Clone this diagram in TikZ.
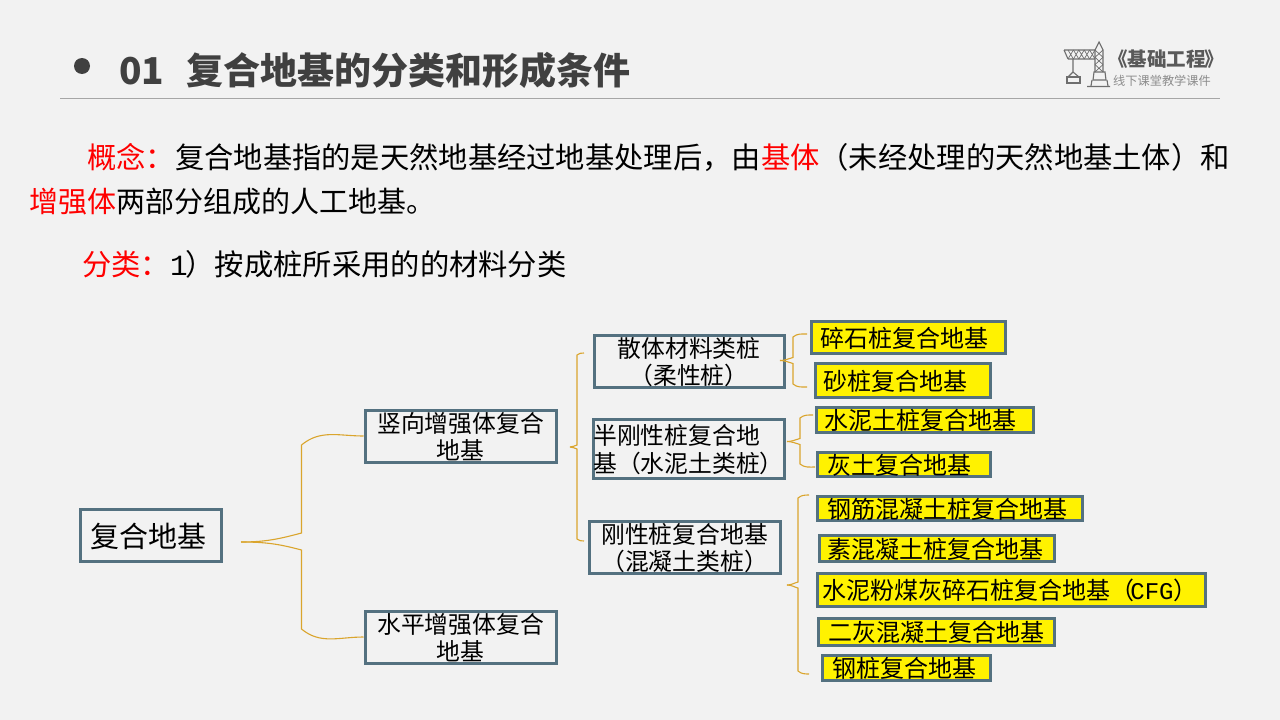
\documentclass[tikz,border=0pt]{standalone}
\usepackage{fontspec}
\setmainfont{Noto Sans CJK SC}
\newfontfamily\monolatin{Liberation Mono}
\usetikzlibrary{calc}

\definecolor{boxedge}{RGB}{84,113,128}
\definecolor{bracegold}{RGB}{218,165,45}
\definecolor{pagebg}{RGB}{242,242,242}
\definecolor{titlegray}{RGB}{64,64,64}
\definecolor{logogray}{RGB}{110,110,110}

\tikzset{
  para/.style={anchor=west,inner sep=0pt,font=\fontsize{29}{34}\selectfont,text=black},
  plainbox/.style={draw=boxedge,line width=3pt,inner sep=0pt,align=center,text depth=0pt,font=\fontsize{23.8}{27.5}\selectfont},
  yellowbox/.style={draw=boxedge,fill=yellow,line width=3pt,inner sep=0pt,text depth=0pt,font=\fontsize{24}{27}\selectfont},
  bracket/.style={draw=bracegold,line width=1.1pt},
  crane/.style={draw=logogray,line width=1.1pt}
}

\newcommand{\bracearm}[5]{
  \draw [bracket] (#1) to [out=0,in={#4*165}] ($ (#1 -| #3)+(0,#4*#5) $)
    -- ($ (#2 -| #3)-(0,#4*#5) $) to [out={#4*(-40)},in=180] (#2);
}

\begin{document}
\begin{tikzpicture}[x=1pt,y=-1pt]
  \useasboundingbox [fill=pagebg] (0,0) rectangle (1280,720);

  % title
  \node [circle,fill=titlegray,inner sep=0pt,minimum size=16pt] (bullet) at (82,66) {};
  \node [anchor=west,inner sep=0pt,text=titlegray,font=\fontsize{37}{42}\selectfont\bfseries] (title) at (119,70)
    {01\hspace{22pt}复合地基的分类和形成条件};
  \coordinate (rulel) at (60,98.5);
  \coordinate (ruler) at (1220,98.5);
  \draw [color=black!35,line width=1pt] (rulel) -- (ruler);

  % logo
  \draw [crane] (1064,50) -- (1095,50) (1068,59) -- (1095,59) (1064,50) -- (1068,59);
  \draw [crane] (1095,72) -- (1095,50) -- (1099,42) -- (1103,50) -- (1103,72);
  \foreach \i in {0,1,2,3,4}
    \draw [crane,line width=0.7pt] ({1068+5.4*\i},50) -- ({1073.4+5.4*\i},59) ({1073.4+5.4*\i},50) -- ({1068+5.4*\i},59);
  \foreach \j in {0,1,2}
    \draw [crane,line width=0.7pt] (1095,{50+7.3*\j}) -- (1103,{57.3+7.3*\j}) (1103,{50+7.3*\j}) -- (1095,{57.3+7.3*\j});
  \draw [crane] (1073,59) -- (1073,72) -- (1068,77) (1073,72) -- (1079,77);
  \draw [crane] (1067,77) rectangle (1080,83);
  \draw [crane] (1094,72) -- (1105,72) -- (1106,80) -- (1093,80) -- cycle;
  \draw [crane] (1091,86) -- (1092,80) (1108,86) -- (1107,80) (1087,86.5) -- (1110,86.5);
  \node [anchor=west,inner sep=0pt,text=black!65,font=\fontsize{19.5}{22}\selectfont\bfseries] (logotitle) at (1112,59)
    {\hspace{-4pt}《基础工程\hspace{-1pt}》};
  \node [anchor=west,inner sep=0pt,text=black!45,font=\fontsize{12.2}{14}\selectfont] (logosub) at (1113,81) {线下课堂教学课件};

  % text
  \node [para,font=\fontsize{29.3}{34}\selectfont] (line1) at (87,158)
    {\textcolor{red}{概念：}复合地基指的是天然地基经过地基处理后，由\textcolor{red}{基体}（未经处理的天然地基土体）和};
  \node [para] (line2) at (29,202) {\textcolor{red}{增强体}两部分组成的人工地基。};
  \node [para,font=\fontsize{29.3}{34}\selectfont] (line3) at (82,264)
    {\textcolor{red}{分类：}{\monolatin 1}\hspace{-2pt}）按成桩所采用的的材料分类};

  % boxes
  \node [plainbox,minimum width=141pt,minimum height=52pt,font=\fontsize{29}{32}\selectfont] (root) at (151,535) {复合地基\hspace{6pt}};
  \node [plainbox,minimum width=191pt,minimum height=52pt] (vert) at (460.5,436) {竖向增强体复合\\地基};
  \node [plainbox,minimum width=191pt,minimum height=52pt] (horiz) at (460.5,637) {水平增强体复合\\地基};

  \node [plainbox,minimum width=190pt,minimum height=52pt] (loose) at (689,361) {散体材料类桩\\（柔性桩）};
  \node [plainbox,minimum width=191pt,minimum height=59pt,align=left,text depth=-3pt] (semi) at (688.5,448.5) {半刚性桩复合地\hspace{23pt}\\基（水泥土类桩）};
  \node [plainbox,minimum width=191pt,minimum height=52pt,text depth=-3pt] (rigid) at (684.5,547) {刚性桩复合地基\\（混凝土类桩）};

  \node [yellowbox,minimum width=194pt,minimum height=32pt] (gravel) at (908,337) {碎石桩复合地基\kern8pt};
  \node [yellowbox,minimum width=175pt,minimum height=34pt] (sand) at (902.5,380) {砂桩复合地基\kern14pt};
  \node [yellowbox,minimum width=217pt,minimum height=25pt] (soilcem) at (924.5,419.5) {水泥土桩复合地基\kern8pt};
  \node [yellowbox,minimum width=173pt,minimum height=24pt] (lime) at (903.5,464) {灰土复合地基\kern8pt};
  \node [yellowbox,minimum width=265pt,minimum height=24pt] (rcpile) at (949.5,508) {钢筋混凝土桩复合地基\kern4pt};
  \node [yellowbox,minimum width=235pt,minimum height=26pt] (plain) at (936.5,548) {素混凝土桩复合地基\kern2pt};
  \node [yellowbox,minimum width=388pt,minimum height=33pt] (cfg) at (1011,589.5) {水泥粉煤灰碎石桩复合地基（\hspace{-4pt}{\monolatin CFG}）\kern2pt};
  \node [yellowbox,minimum width=236pt,minimum height=27pt] (twolime) at (936,631.5) {二灰混凝土复合地基};
  \node [yellowbox,minimum width=168pt,minimum height=25pt] (steel) at (906,667.5) {钢桩复合地基\kern4pt};

  % braces
  \coordinate (tip1) at (241,542);
  \coordinate (spine1) at (301.5,542);
  \bracearm{tip1}{vert.west}{spine1}{-1}{9}
  \bracearm{tip1}{horiz.west}{spine1}{1}{8}

  \coordinate (tip2) at (570,447);
  \coordinate (spine2) at (577,447);
  \coordinate (end2a) at (584,353);
  \coordinate (end2b) at (584,541);
  \bracearm{tip2}{end2a}{spine2}{-1}{2}
  \bracearm{tip2}{end2b}{spine2}{1}{2}

  \coordinate (tip3) at (780,360.5);
  \coordinate (spine3) at (793,360.5);
  \coordinate (end3a) at (807,334);
  \coordinate (end3b) at (807,387);
  \bracearm{tip3}{end3a}{spine3}{-1}{3}
  \bracearm{tip3}{end3b}{spine3}{1}{3}

  \coordinate (tip4) at (787,441.5);
  \coordinate (spine4) at (800,441.5);
  \coordinate (end4a) at (813,415);
  \coordinate (end4b) at (815,467);
  \bracearm{tip4}{end4a}{spine4}{-1}{3}
  \bracearm{tip4}{end4b}{spine4}{1}{3}

  \coordinate (tip5) at (787,585);
  \coordinate (spine5) at (798,585);
  \coordinate (end5a) at (809,495);
  \coordinate (end5b) at (809,674);
  \bracearm{tip5}{end5a}{spine5}{-1}{3}
  \bracearm{tip5}{end5b}{spine5}{1}{3}
\end{tikzpicture}
\end{document}
